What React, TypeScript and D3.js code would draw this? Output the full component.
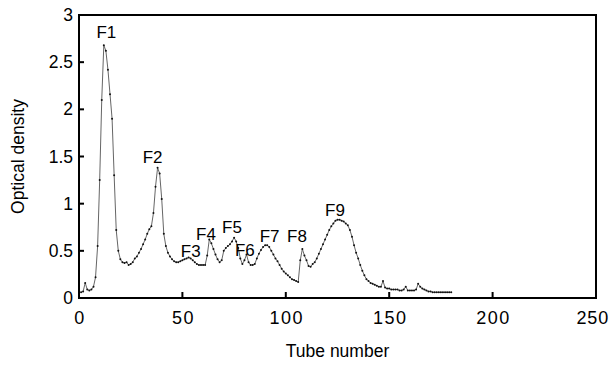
import * as d3 from 'd3';
import React from 'react';

// optical density per tube
const tubes: number[] = d3.range(1, 181);
const density: number[] = [
    0.06, 0.07, 0.16, 0.09, 0.08, 0.09, 0.12, 0.22, 0.55, 1.25,
    2.1, 2.68, 2.62, 2.42, 2.16, 1.9, 1.3, 0.72, 0.5, 0.41,
    0.38, 0.37, 0.38, 0.35, 0.36, 0.38, 0.42, 0.44, 0.48, 0.52,
    0.57, 0.62, 0.68, 0.73, 0.76, 0.9, 1.18, 1.38, 1.32, 1.05,
    0.68, 0.55, 0.48, 0.44, 0.41, 0.39, 0.38, 0.38, 0.39, 0.4,
    0.41, 0.42, 0.43, 0.42, 0.4, 0.38, 0.36, 0.35, 0.35, 0.35,
    0.35, 0.45, 0.62, 0.58, 0.52, 0.46, 0.41, 0.38, 0.4, 0.5,
    0.53, 0.55, 0.57, 0.6, 0.64, 0.6, 0.53, 0.42, 0.36, 0.4,
    0.46, 0.38, 0.35, 0.35, 0.36, 0.42, 0.47, 0.51, 0.54, 0.56,
    0.56, 0.54, 0.5, 0.46, 0.42, 0.39, 0.35, 0.31, 0.28, 0.26,
    0.24, 0.22, 0.2, 0.19, 0.18, 0.17, 0.4, 0.52, 0.45, 0.4,
    0.34, 0.33, 0.36, 0.38, 0.42, 0.47, 0.52, 0.57, 0.62, 0.67,
    0.72, 0.76, 0.79, 0.82, 0.83, 0.83, 0.82, 0.81, 0.79, 0.77,
    0.72, 0.65, 0.56, 0.48, 0.42, 0.35, 0.29, 0.24, 0.2, 0.18,
    0.16, 0.15, 0.14, 0.13, 0.12, 0.12, 0.18, 0.11, 0.1, 0.1,
    0.09, 0.09, 0.09, 0.09, 0.08, 0.08, 0.09, 0.12, 0.08, 0.08,
    0.08, 0.08, 0.09, 0.15, 0.12, 0.1, 0.09, 0.08, 0.07, 0.07,
    0.06, 0.06, 0.06, 0.06, 0.06, 0.06, 0.06, 0.06, 0.06, 0.06,
];

// fraction labels, anchored in data units (tube, OD)
const fractionNames = ['F1', 'F2', 'F3', 'F4', 'F5', 'F6', 'F7', 'F8', 'F9'];
const fractionTube = [13.2, 35.6, 54, 61.4, 74, 80.2, 92.2, 105.4, 123.8];
const fractionOD = [2.76, 1.43, 0.43, 0.61, 0.69, 0.45, 0.59, 0.59, 0.87];

const xTicks = [0, 50, 100, 150, 200, 250];
const yTicks = [0, 0.5, 1, 1.5, 2, 2.5, 3];

const width = 610;
const height = 365;
const margin = { top: 15, right: 14, bottom: 67, left: 79 };
const font = '"Liberation Sans", Arial, Helvetica, sans-serif';

const xScale = d3.scaleLinear().domain([0, 250]).range([margin.left, width - margin.right]);
const yScale = d3.scaleLinear().domain([0, 3]).range([height - margin.bottom, margin.top]);

type Pt = { t: number; v: number };
const points: Pt[] = tubes.map((t, i) => ({ t, v: density[i] }));

const line = d3.line<Pt>()
    .x(d => xScale(d.t))
    .y(d => yScale(d.v));

export default function App() {
    const x0 = xScale(0), x1 = xScale(250);
    const y0 = yScale(0), y1 = yScale(3);

    return (
        <svg width={width} height={height} style={{ position: 'absolute', left: 0, top: 0 }} fontFamily={font}>
            <rect x={0} y={0} width={width} height={height} fill="#fff" />

            {/* trace */}
            <path d={line(points) ?? ''} fill="none" stroke="#666" strokeWidth={1} />
            {points.map((d, i) => (
                <circle key={i} cx={xScale(d.t)} cy={yScale(d.v)} r={1} fill="#111" />
            ))}

            {/* frame */}
            <rect x={x0} y={y1} width={x1 - x0} height={y0 - y1} fill="none" stroke="#000" strokeWidth={2} />

            {/* inward ticks */}
            {xTicks.slice(1, -1).map(t => (
                <line key={'xt' + t} x1={xScale(t)} x2={xScale(t)} y1={y0} y2={y0 - 6} stroke="#000" strokeWidth={2} />
            ))}
            {yTicks.slice(1, -1).map(t => (
                <line key={'yt' + t} x1={x0} x2={x0 + 5} y1={yScale(t)} y2={yScale(t)} stroke="#000" strokeWidth={2} />
            ))}

            {/* tick labels; the last one is kept inside the page edge */}
            {xTicks.map((t, i) => {
                const last = i === xTicks.length - 1;
                return (
                    <text key={'xl' + t} x={last ? width - 1 : xScale(t) + 1} y={y0 + 26}
                        textAnchor={last ? 'end' : 'middle'} fontSize={18} letterSpacing={last ? 0.8 : 1.5} fill="#000">{t}</text>
                );
            })}
            {yTicks.map(t => (
                <text key={'yl' + t} x={x0 - 6} y={yScale(t) + 6} textAnchor="end" fontSize={17.5} fill="#000">{t}</text>
            ))}

            {/* axis titles */}
            <text x={(x0 + x1) / 2} y={height - 8} textAnchor="middle" fontSize={17.5} fill="#000">Tube number</text>
            <text transform={`translate(24,${(y0 + y1) / 2}) rotate(-90)`} textAnchor="middle" fontSize={17.5} fill="#000">Optical density</text>

            {/* fraction labels */}
            {fractionNames.map((name, i) => (
                <text key={name} x={xScale(fractionTube[i])} y={yScale(fractionOD[i])} textAnchor="middle" fontSize={17} fill="#000">{name}</text>
            ))}
        </svg>
    );
}
